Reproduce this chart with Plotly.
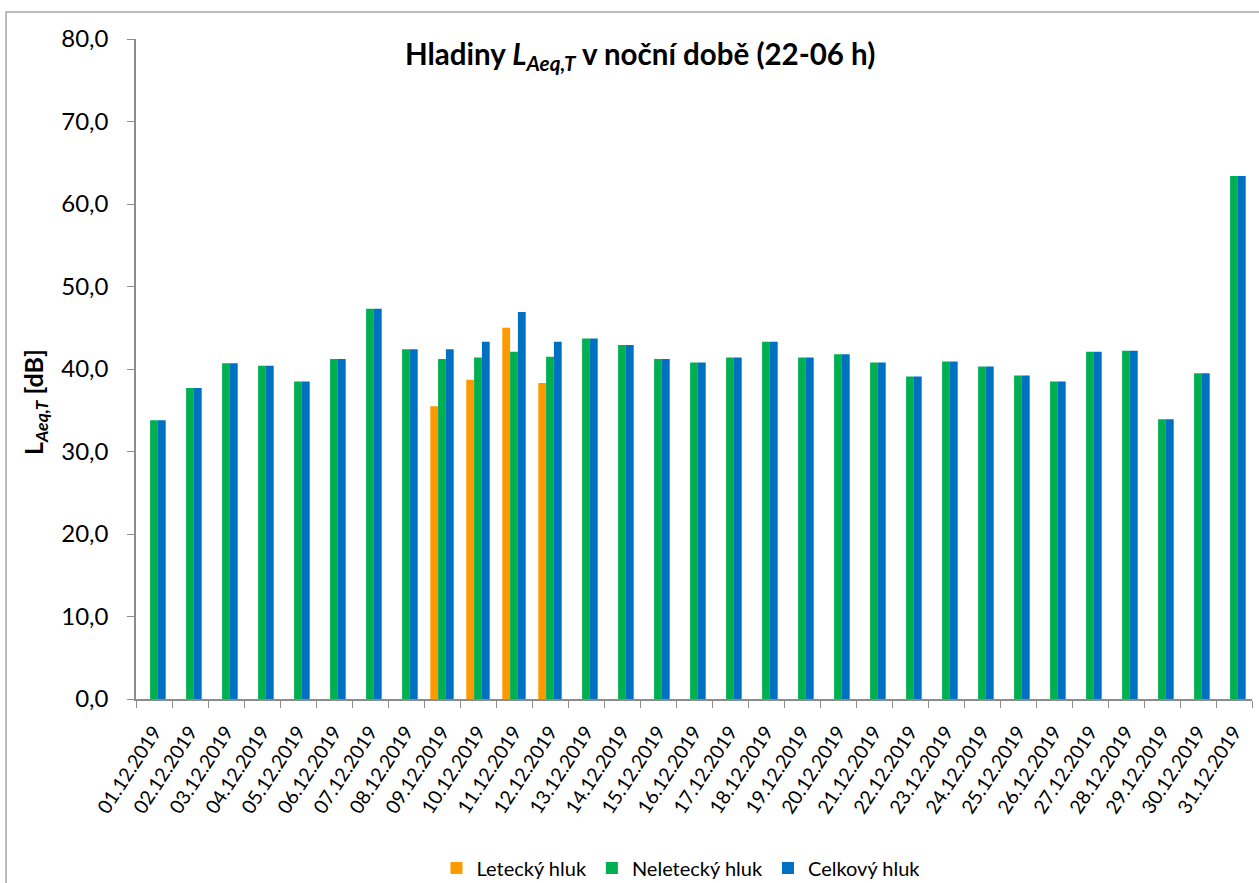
import plotly.graph_objects as go

dates = [f"{d:02d}.12.2019" for d in range(1, 32)]

letecky = [None]*8 + [35.5, 38.7, 45.0, 38.3] + [None]*19
neletecky = [33.8, 37.7, 40.7, 40.4, 38.5, 41.2, 47.3, 42.4,
             41.2, 41.4, 42.1, 41.5,
             43.7, 42.9, 41.2, 40.8, 41.4, 43.3, 41.4, 41.8, 40.8, 39.1,
             40.9, 40.3, 39.2, 38.5, 42.1, 42.2, 33.9, 39.5, 63.4]
celkovy = [33.8, 37.7, 40.7, 40.4, 38.5, 41.2, 47.3, 42.4,
           42.4, 43.3, 46.9, 43.3,
           43.7, 42.9, 41.2, 40.8, 41.4, 43.3, 41.4, 41.8, 40.8, 39.1,
           40.9, 40.3, 39.2, 38.5, 42.1, 42.2, 33.9, 39.5, 63.4]

series_names = ["Letecký hluk", "Neletecký hluk", "Celkový hluk"]
colors = ["#FF9900", "#00B050", "#0070C0"]

W, H = 1259, 883
ML, MR, MT, MB = 136, 7, 39, 184
PW, PH = W - ML - MR, H - MT - MB

def px_x(x):
    return (x - ML) / PW

def px_y(y):
    return (H - MB - y) / PH

fig = go.Figure()
for name, vals, c in zip(series_names, [letecky, neletecky, celkovy], colors):
    fig.add_trace(go.Bar(x=dates, y=vals, name=name, marker=dict(color=c, line=dict(width=0))))

font = "Lato, 'Open Sans', sans-serif"
fig.update_layout(
    width=W, height=H, autosize=False,
    margin=dict(l=ML, r=MR, t=MT, b=MB, autoexpand=False),
    paper_bgcolor="white", plot_bgcolor="white",
    separators=", ",
    barmode="group", bargap=0.35, bargroupgap=0,
    font=dict(family=font, color="black"),
    showlegend=True,
    legend=dict(orientation="h", x=px_x(681), xanchor="center", y=px_y(868), yanchor="middle",
                font=dict(size=20, family=font), itemwidth=30, traceorder="normal"),
    xaxis=dict(type="category", showgrid=False, showline=True, linecolor="#8c8c8c", linewidth=1.5,
               ticks="outside", ticklen=7, tickcolor="#8c8c8c", tickson="boundaries",
               tickangle=-57, tickfont=dict(size=19.5, family=font), automargin=False,
               ticklabelstandoff=12),
    yaxis=dict(range=[0, 80], dtick=10, tickformat=".1f", showgrid=False, showline=True,
               linecolor="#8c8c8c", linewidth=1.5, ticks="outside", ticklen=7, tickcolor="#8c8c8c",
               tickfont=dict(size=24, family=font), zeroline=False, automargin=False,
               ticklabelstandoff=14),
    annotations=[
        dict(text="<b>Hladiny <i>L<sub>Aeq,T</sub></i> v noční době (22-06 h)</b>",
             xref="paper", yref="paper", x=px_x(640), y=px_y(55), xanchor="center", yanchor="middle",
             showarrow=False, font=dict(size=29.5, family=font)),
        dict(text="<b>L<sub><i>Aeq,T</i></sub> [dB]</b>", textangle=-90,
             xref="paper", yref="paper", x=px_x(35), y=px_y(402), xanchor="center", yanchor="middle",
             showarrow=False, font=dict(size=25, family=font)),
    ],
    shapes=[dict(type="rect", xref="paper", yref="paper",
                 x0=px_x(6), x1=px_x(1300), y0=px_y(950), y1=px_y(12),
                 line=dict(color="#a6a6a6", width=1.5), layer="below")],
)

fig.write_html("out.html", config={"displayModeBar": False},
               post_script="document.body.style.margin='0';document.body.style.overflow='hidden';")
